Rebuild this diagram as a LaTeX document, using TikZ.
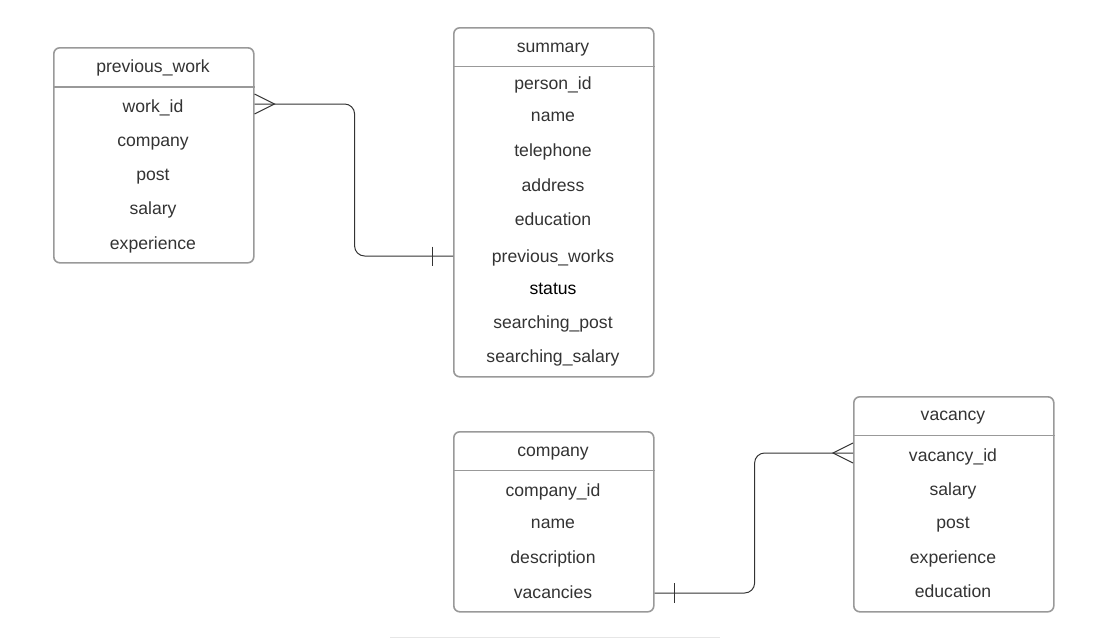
\documentclass[tikz,border=0pt]{standalone}
\usepackage{fontspec}
\setmainfont{Liberation Sans}
\definecolor{boxgray}{HTML}{999999}
\definecolor{txtgray}{HTML}{333333}
\definecolor{lnk}{HTML}{333333}
\definecolor{faint}{HTML}{E6E6E6}
\begin{document}
\begin{tikzpicture}[x=1pt,y=-1pt,
  tbl/.style={draw=boxgray, line width=1.6pt, rounded corners=6pt, minimum width=200pt, inner sep=0pt, anchor=north west},
  hline/.style={draw=boxgray, line width=1.6pt},
  fld/.style={font=\fontsize{17.6}{20}\selectfont, text=txtgray, inner sep=0pt, anchor=base},
  conn/.style={draw=lnk, line width=1pt},
]
\useasboundingbox (0,0) rectangle (1113,638);

% previous_work
\node[tbl, minimum height=215pt] (pw) at (53,47) {};
\draw[hline] ([yshift=-40pt]pw.north west) -- ([yshift=-40pt]pw.north east);
\node[fld] (pwh) at (153,72) {previous\_work};
\node[fld] (pw1) at (153,112.7) {work\_id};
\node[fld] (pw2) at (153,146.5) {company};
\node[fld] (pw3) at (153,180.5) {post};
\node[fld] (pw4) at (153,214.5) {salary};
\node[fld] (pw5) at (153,249) {experience};

% summary
\node[tbl, minimum height=349pt] (sm) at (453,27) {};
\draw[hline] ([yshift=-39.5pt]sm.north west) -- ([yshift=-39.5pt]sm.north east);
\node[fld] (smh) at (553,52) {summary};
\node[fld] (sm1) at (553,89) {person\_id};
\node[fld] (sm2) at (553,121) {name};
\node[fld] (sm3) at (553,156.7) {telephone};
\node[fld] (sm4) at (553,191) {address};
\node[fld] (sm5) at (553,225) {education};
\node[fld] (sm6) at (553,262.7) {previous\_works};
\node[fld, text=black] (sm7) at (553,294) {status};
\node[fld] (sm8) at (553,328.3) {searching\_post};
\node[fld] (sm9) at (553,362.7) {searching\_salary};

% company
\node[tbl, minimum height=180pt] (co) at (453,431) {};
\draw[hline] ([yshift=-39.5pt]co.north west) -- ([yshift=-39.5pt]co.north east);
\node[fld] (coh) at (553,456) {company};
\node[fld] (co1) at (553,496.7) {company\_id};
\node[fld] (co2) at (553,528.3) {name};
\node[fld] (co3) at (553,563.3) {description};
\node[fld] (co4) at (553,598.3) {vacancies};

% vacancy
\node[tbl, minimum height=215pt] (va) at (853,396) {};
\draw[hline] ([yshift=-39.5pt]va.north west) -- ([yshift=-39.5pt]va.north east);
\node[fld] (vah) at (953,420.7) {vacancy};
\node[fld] (va1) at (953,461.7) {vacancy\_id};
\node[fld] (va2) at (953,495) {salary};
\node[fld] (va3) at (953,528.3) {post};
\node[fld] (va4) at (953,563.3) {experience};
\node[fld] (va5) at (953,597.3) {education};

% connector previous_work -- summary
\coordinate (a1) at (pw.east |- 0,104);
\coordinate (b1) at (sm.west |- 0,256);
\draw[conn, rounded corners=10pt] (a1) -- ++(100,0) |- (b1);
\draw[conn] ([yshift=10pt]a1) -- ([xshift=20pt]a1) -- ([yshift=-10pt]a1);
\draw[conn] ([xshift=-21pt,yshift=9.5pt]b1) -- ([xshift=-21pt,yshift=-9.5pt]b1);

% connector company -- vacancy
\coordinate (a2) at (co.east |- 0,593);
\coordinate (b2) at (va.west |- 0,453);
\draw[conn, rounded corners=10pt] (a2) -- ++(100,0) |- (b2);
\draw[conn] ([xshift=20pt,yshift=10pt]a2) -- ([xshift=20pt,yshift=-10pt]a2);
\draw[conn] ([yshift=10pt]b2) -- ([xshift=-20pt]b2) -- ([yshift=-10pt]b2);

% faint bottom line
\draw[faint, line width=1pt] (390,637) -- (720,637);
\end{tikzpicture}
\end{document}
